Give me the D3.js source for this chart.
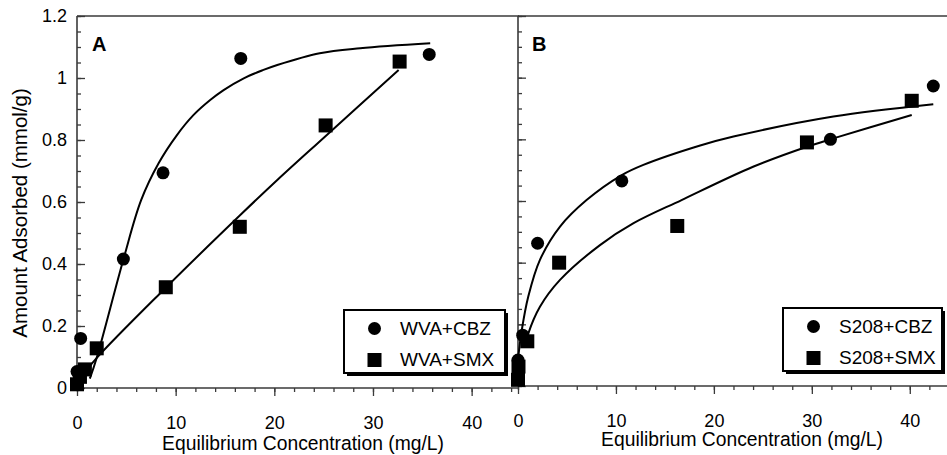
<!DOCTYPE html>
<html><head><meta charset="utf-8">
<script src="https://cdn.jsdelivr.net/npm/d3@7"></script>
<style>html,body{margin:0;padding:0;background:#fff;}svg{display:block;font-family:"Liberation Sans",Arial,sans-serif;}</style>
</head><body><svg id="c" width="947" height="455"></svg>
<script>
// ---- data ----
const xMajorTicks = [0, 10, 20, 30, 40];
const yMajorTicks = [0, 0.2, 0.4, 0.6, 0.8, 1.0, 1.2];
const yTickLabels = ["0", "0.2", "0.4", "0.6", "0.8", "1", "1.2"];
const xMinorA = d3.range(0, 45, 2);
const xMinorB = d3.range(0, 43, 2);
const yMinor = d3.range(0, 1.2001, 0.05);

// Panel A (WVA)
const aCbzX = [0.0, 0.37, 4.7, 8.72, 16.6, 35.7];
const aCbzY = [0.053, 0.16, 0.416, 0.694, 1.063, 1.076];
const aSmxX = [0.0, 0.3, 0.8, 2.0, 9.0, 16.5, 25.2, 32.7];
const aSmxY = [0.012, 0.036, 0.06, 0.128, 0.325, 0.52, 0.847, 1.053];
const aCbzFitX = [1.3, 2.03, 4.73, 6.5, 8.27, 10.13, 11.82, 13.5, 14.86, 16.9, 18.9, 20.3, 24.6, 28.7, 35.8];
const aCbzFitY = [0.03, 0.101, 0.418, 0.606, 0.725, 0.816, 0.881, 0.929, 0.961, 0.999, 1.026, 1.042, 1.08, 1.096, 1.112];
const aSmxFitX = [0.3, 2.03, 8.95, 16.55, 20.3, 25.1, 32.6];
const aSmxFitY = [0.03, 0.098, 0.322, 0.558, 0.671, 0.81, 1.026];

// Panel B (S208)
const bCbzX = [0.0, 0.48, 2.0, 10.6, 31.9, 42.4];
const bCbzY = [0.084, 0.165, 0.463, 0.665, 0.80, 0.973];
const bSmxX = [0.0, 0.05, 0.95, 4.2, 16.26, 29.5, 40.2];
const bSmxY = [0.02, 0.063, 0.145, 0.40, 0.519, 0.79, 0.925];
const bCbzFitX = [0.03, 0.38, 1.05, 2.24, 4.29, 7.0, 10.6, 12.8, 18.6, 22.0, 32.2, 42.4];
const bCbzFitY = [0.095, 0.18, 0.29, 0.409, 0.517, 0.603, 0.684, 0.717, 0.78, 0.809, 0.874, 0.914];
const bSmxFitX = [0.9, 1.05, 2.24, 4.29, 8.37, 11.8, 16.7, 24.0, 29.5, 32.2, 40.2];
const bSmxFitY = [0.15, 0.17, 0.257, 0.344, 0.457, 0.528, 0.603, 0.711, 0.776, 0.803, 0.879];

const legendA = ["WVA+CBZ", "WVA+SMX"];
const legendB = ["S208+CBZ", "S208+SMX"];
const xTitle = "Equilibrium Concentration (mg/L)";
const yTitle = "Amount Adsorbed (mmol/g)";

// ---- drawing ----
const svg = d3.select("#c");
const axisColor = "#3a3a3a";

const xA = d3.scaleLinear().domain([0, 44.8]).range([77, 519]);
const yA = d3.scaleLinear().domain([0, 1.2]).range([388, 16]);
const xB = d3.scaleLinear().domain([0, 43.8]).range([518, 947]);
const yB = d3.scaleLinear().domain([0, 1.2]).range([386, 16]);

function styleAxis(g) {
  g.select(".domain").remove();
  g.selectAll("line").attr("stroke", axisColor).attr("stroke-width", 1.3);
  g.selectAll("text").attr("font-size", 18).attr("fill", "#000").attr("font-family", "Liberation Sans, Arial, sans-serif");
}

function panel(x, y, opts) {
  const x0 = x.range()[0], x1 = x.range()[1];
  const yb = y(0), yt = y(1.2);
  svg.append("g").attr("transform", `translate(0,${yb})`)
    .call(d3.axisBottom(x).tickValues(opts.xMinor).tickSize(4).tickFormat(""))
    .call(styleAxis);
  svg.append("g").attr("transform", `translate(0,${yb})`)
    .call(d3.axisBottom(x).tickValues(xMajorTicks).tickSize(8).tickPadding(opts.xPad)
      .tickFormat(d => d3.format("d")(d)))
    .call(styleAxis);
  svg.append("g").attr("transform", `translate(${x0},0)`)
    .call(d3.axisLeft(y).tickValues(yMinor).tickSizeInner(-4).tickSizeOuter(0).tickFormat(""))
    .call(styleAxis);
  const ya = d3.axisLeft(y).tickValues(yMajorTicks).tickSizeInner(-8).tickSizeOuter(0).tickPadding(10)
    .tickFormat((d, i) => opts.yLabels ? yTickLabels[i] : "");
  svg.append("g").attr("transform", `translate(${x0},0)`).call(ya).call(styleAxis);
  svg.append("line").attr("x1", x0).attr("x2", x0).attr("y1", yt).attr("y2", yb)
    .attr("stroke", axisColor).attr("stroke-width", 1.6);
  svg.append("line").attr("x1", x0).attr("x2", x1).attr("y1", yb).attr("y2", yb)
    .attr("stroke", axisColor).attr("stroke-width", 1.6);
  svg.append("line").attr("x1", x0).attr("x2", x1).attr("y1", yt).attr("y2", yt)
    .attr("stroke", axisColor).attr("stroke-width", 1.6);

  const line = d3.line().x(d => x(d[0])).y(d => y(d[1])).curve(d3.curveCatmullRom.alpha(0.5));
  opts.fits.forEach(f => {
    svg.append("path").datum(d3.zip(f[0], f[1])).attr("d", line)
      .attr("fill", "none").attr("stroke", "#000").attr("stroke-width", 2);
  });
  svg.append("g").selectAll("rect").data(d3.zip(opts.sq[0], opts.sq[1])).join("rect")
    .attr("x", d => x(d[0]) - 7).attr("y", d => y(d[1]) - 7)
    .attr("width", 14).attr("height", 14).attr("fill", "#000");
  svg.append("g").selectAll("circle").data(d3.zip(opts.ci[0], opts.ci[1])).join("circle")
    .attr("cx", d => x(d[0])).attr("cy", d => y(d[1])).attr("r", 6.5).attr("fill", "#000");

  svg.append("text").attr("x", opts.letterX).attr("y", 51).attr("font-size", 20)
    .attr("font-weight", "bold").text(opts.letter);
  svg.append("text").attr("x", opts.titleX).attr("y", opts.titleY).attr("text-anchor", "middle")
    .attr("font-size", 19.3).text(xTitle);

  const L = opts.legend;
  svg.append("rect").attr("x", L.x + 3).attr("y", L.y + 3).attr("width", L.w).attr("height", L.h).attr("fill", "#000");
  svg.append("rect").attr("x", L.x).attr("y", L.y).attr("width", L.w).attr("height", L.h)
    .attr("fill", "#fff").attr("stroke", "#000").attr("stroke-width", 2);
  svg.append("circle").attr("cx", L.x + 30.5).attr("cy", L.y + 18.5).attr("r", 6.5).attr("fill", "#000");
  svg.append("rect").attr("x", L.x + 23.5).attr("y", L.y + 43).attr("width", 14).attr("height", 14).attr("fill", "#000");
  svg.append("text").attr("x", L.x + 56).attr("y", L.y + 25).attr("font-size", 19).text(L.labels[0]);
  svg.append("text").attr("x", L.x + 56).attr("y", L.y + 56).attr("font-size", 19).text(L.labels[1]);
}

panel(xA, yA, {
  xMinor: xMinorA, xPad: 20, yLabels: true,
  fits: [[aCbzFitX, aCbzFitY], [aSmxFitX, aSmxFitY]],
  sq: [aSmxX, aSmxY], ci: [aCbzX, aCbzY],
  letter: "A", letterX: 92, titleX: 303, titleY: 450,
  legend: {x: 344, y: 310, w: 161, h: 63, labels: legendA}
});
panel(xB, yB, {
  xMinor: xMinorB, xPad: 20, yLabels: false,
  fits: [[bCbzFitX, bCbzFitY], [bSmxFitX, bSmxFitY]],
  sq: [bSmxX, bSmxY], ci: [bCbzX, bCbzY],
  letter: "B", letterX: 532, titleX: 742, titleY: 446,
  legend: {x: 783, y: 308, w: 159, h: 63, labels: legendB}
});

svg.append("text").attr("transform", "translate(27,213) rotate(-90)")
  .attr("text-anchor", "middle").attr("font-size", 20.5).text(yTitle);
</script>
</body></html>
